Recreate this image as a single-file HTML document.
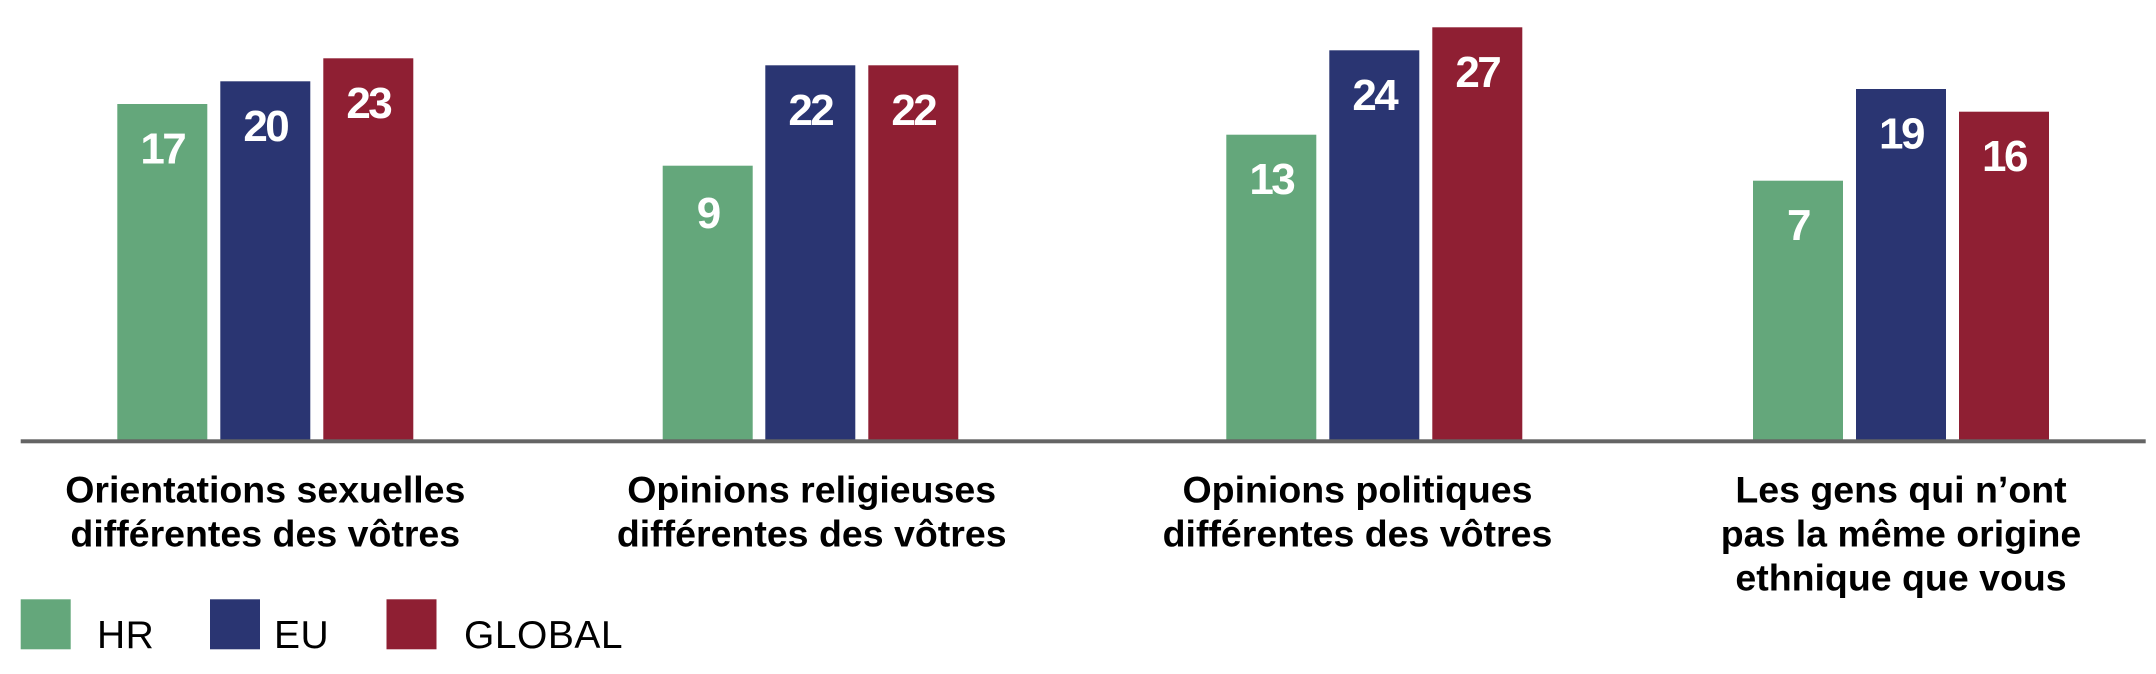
<!DOCTYPE html>
<html>
<head>
<meta charset="utf-8">
<style>
  html, body { margin: 0; padding: 0; background: #ffffff; }
  body { width: 2156px; height: 674px; overflow: hidden; }
  svg { display: block; }
  .val { font-family: "Liberation Sans", Arial, sans-serif; font-weight: bold; font-size: 44px; fill: #ffffff; letter-spacing: -2.5px; }
  .cat { font-family: "Liberation Sans", Arial, sans-serif; font-weight: bold; font-size: 37.5px; fill: #000000; }
  .leg { font-family: "Liberation Sans", Arial, sans-serif; font-size: 39px; fill: #000000; letter-spacing: 0.5px; }
</style>
</head>
<body>
<svg width="2156" height="674" viewBox="0 0 2156 674" xmlns="http://www.w3.org/2000/svg">
  <rect x="0" y="0" width="2156" height="674" fill="#ffffff"/>

  <!-- Group 1 -->
  <rect x="117.3" y="104" width="90" height="336" fill="#64a77b"/>
  <rect x="220.3" y="81.3" width="90" height="359" fill="#2a3572"/>
  <rect x="323.3" y="58.3" width="90" height="382" fill="#8f1f33"/>
  <text class="val" x="162.3" y="163.5" text-anchor="middle">17</text>
  <text class="val" x="265.3" y="140.8" text-anchor="middle">20</text>
  <text class="val" x="368.3" y="117.8" text-anchor="middle">23</text>

  <!-- Group 2 -->
  <rect x="662.7" y="165.7" width="90" height="274" fill="#64a77b"/>
  <rect x="765.3" y="65.3" width="90" height="375" fill="#2a3572"/>
  <rect x="868.3" y="65.3" width="90" height="375" fill="#8f1f33"/>
  <text class="val" x="707.7" y="228" text-anchor="middle">9</text>
  <text class="val" x="810.3" y="124.8" text-anchor="middle">22</text>
  <text class="val" x="913.3" y="124.8" text-anchor="middle">22</text>

  <!-- Group 3 -->
  <rect x="1226.3" y="134.7" width="90" height="305" fill="#64a77b"/>
  <rect x="1329.3" y="50.3" width="90" height="390" fill="#2a3572"/>
  <rect x="1432.3" y="27.3" width="90" height="413" fill="#8f1f33"/>
  <text class="val" x="1271.3" y="194.2" text-anchor="middle">13</text>
  <text class="val" x="1374.3" y="109.8" text-anchor="middle">24</text>
  <text class="val" x="1477.3" y="86.8" text-anchor="middle">27</text>

  <!-- Group 4 -->
  <rect x="1753" y="180.7" width="90" height="259" fill="#64a77b"/>
  <rect x="1856" y="89" width="90" height="351" fill="#2a3572"/>
  <rect x="1959" y="111.7" width="90" height="328" fill="#8f1f33"/>
  <text class="val" x="1798" y="240.2" text-anchor="middle">7</text>
  <text class="val" x="1901" y="148.5" text-anchor="middle">19</text>
  <text class="val" x="2004" y="171.2" text-anchor="middle">16</text>

  <!-- Axis line -->
  <rect x="20.7" y="439.3" width="2125" height="4" fill="#646464"/>

  <!-- Category labels -->
  <text class="cat" x="265.3" y="502.7" text-anchor="middle">Orientations sexuelles</text>
  <text class="cat" x="265.3" y="546.7" text-anchor="middle">différentes des vôtres</text>

  <text class="cat" x="811.7" y="502.7" text-anchor="middle">Opinions religieuses</text>
  <text class="cat" x="811.7" y="546.7" text-anchor="middle">différentes des vôtres</text>

  <text class="cat" x="1357.5" y="502.7" text-anchor="middle">Opinions politiques</text>
  <text class="cat" x="1357.5" y="546.7" text-anchor="middle">différentes des vôtres</text>

  <text class="cat" x="1901" y="502.7" text-anchor="middle">Les gens qui n’ont</text>
  <text class="cat" x="1901" y="546.7" text-anchor="middle">pas la même origine</text>
  <text class="cat" x="1901" y="590.7" text-anchor="middle">ethnique que vous</text>

  <!-- Legend -->
  <rect x="20.7" y="599.3" width="50" height="50" fill="#64a77b"/>
  <text class="leg" x="97" y="648">HR</text>
  <rect x="210" y="599.3" width="50" height="50" fill="#2a3572"/>
  <text class="leg" x="274" y="648">EU</text>
  <rect x="386.5" y="599.3" width="50" height="50" fill="#8f1f33"/>
  <text class="leg" x="464" y="648">GLOBAL</text>
</svg>
</body>
</html>
